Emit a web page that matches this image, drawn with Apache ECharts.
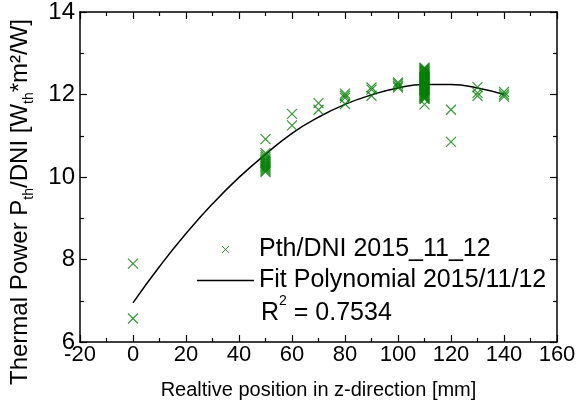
<!DOCTYPE html>
<html>
<head>
<meta charset="utf-8">
<script src="https://cdn.jsdelivr.net/npm/echarts@6/dist/echarts.min.js"></script>
<style>
html,body{margin:0;padding:0;background:#fff;}
#chart{width:579px;height:412px;}
</style>
</head>
<body>
<div id="chart"></div>
<script>
// Measured points (relative position in mm -> Pth/DNI)
const z0   = [7.90, 6.57];
const z50  = [10.92, 10.58, 10.53, 10.48, 10.44, 10.40, 10.37, 10.33, 10.30, 10.27, 10.24, 10.21, 10.18, 10.15, 10.12];
const z60  = [11.53, 11.25];
const z70  = [11.79, 11.63];
const z80  = [12.02, 11.97, 11.92, 11.77];
const z90  = [12.17, 12.12, 11.97];
const z100 = [12.29, 12.25, 12.21, 12.17];
const z110 = [12.65, 12.63, 12.61, 12.59, 12.57, 12.55, 12.53, 12.51, 12.49, 12.47, 12.45, 12.43, 12.41, 12.39, 12.37, 12.35, 12.33, 12.31, 12.29, 12.27, 12.25, 12.23, 12.21, 12.19, 12.17, 12.15, 12.13, 12.11, 12.09, 12.07, 12.05, 12.03, 12.01, 11.99, 11.97, 11.95, 11.93, 11.91, 11.89, 11.76];
const z120 = [11.63, 10.85];
const z130 = [12.18, 12.04, 11.97];
const z140 = [12.06, 12.00, 11.95];
const positions = [0, 50, 60, 70, 80, 90, 100, 110, 120, 130, 140];
const groups = [z0, z50, z60, z70, z80, z90, z100, z110, z120, z130, z140];

// Polynomial fit curve
const fitX = [0, 10, 20, 30, 40, 50, 60, 70, 80, 90, 100, 110, 120, 130, 140];
const fitY = [6.95, 7.83, 8.63, 9.35, 9.99, 10.55, 11.06, 11.45, 11.76, 11.99, 12.16, 12.24, 12.24, 12.16, 12.00];

const xTicks = {min: -20, max: 160, interval: 20};
const yTicks = {min: 6, max: 14, interval: 2};

const scatterName = 'Pth/DNI 2015_11_12';
const fitName = 'Fit Polynomial 2015/11/12';
const r2Text = '0.7534';

const scatterData = [];
positions.forEach((p, i) => groups[i].forEach(v => scatterData.push([p, v])));
const fitData = fitX.map((x, i) => [x, fitY[i]]);

const xMark = 'path://M0,0L10,10M10,0L0,10';
const lineMark = 'path://M0,0L57,0L57,1.5L0,1.5Z';
const green = '#008000';
const font = 'Liberation Sans, Arial, sans-serif';

const chart = echarts.init(document.getElementById('chart'));
const axisCommon = {
  axisLine: {show: true, onZero: false, lineStyle: {color: '#000', width: 1.5}},
  axisTick: {show: true, inside: true, length: 7, lineStyle: {color: '#000', width: 1.2}},
  minorTick: {show: true, splitNumber: 2, length: 4, lineStyle: {color: '#000', width: 1.2}},
  splitLine: {show: false},
  minorSplitLine: {show: false}
};
chart.setOption({
  animation: false,
  backgroundColor: '#fff',
  grid: {left: 79, right: 22, top: 10, bottom: 70, containLabel: false},
  xAxis: [
    Object.assign({
      type: 'value', min: xTicks.min, max: xTicks.max, interval: xTicks.interval,
      position: 'bottom',
      name: 'Realtive position in z-direction [mm]',
      nameLocation: 'middle', nameGap: 38,
      nameTextStyle: {fontFamily: font, fontSize: 20, color: '#000'},
      axisLabel: {fontFamily: font, fontSize: 22, color: '#000', margin: 2}
    }, axisCommon),
    Object.assign({
      type: 'value', min: xTicks.min, max: xTicks.max, interval: xTicks.interval,
      position: 'top', axisLabel: {show: false}
    }, axisCommon)
  ],
  yAxis: [
    Object.assign({
      type: 'value', min: yTicks.min, max: yTicks.max, interval: yTicks.interval,
      position: 'left',
      name: '{m|Thermal Power P}{s|th}{m|/DNI [W}{s|th}{m|*m²/W]}',
      nameLocation: 'middle', nameGap: 44, nameRotate: 90,
      nameTextStyle: {
        fontFamily: font, color: '#000', padding: [0, 50, 0, 0],
        rich: {
          m: {fontFamily: font, fontSize: 24, color: '#000', lineHeight: 32, verticalAlign: 'middle'},
          s: {fontFamily: font, fontSize: 14, color: '#000', lineHeight: 14, verticalAlign: 'bottom'}
        }
      },
      axisLabel: {fontFamily: font, fontSize: 24, color: '#000', margin: 5}
    }, axisCommon),
    Object.assign({
      type: 'value', min: yTicks.min, max: yTicks.max, interval: yTicks.interval,
      position: 'right', axisLabel: {show: false}
    }, axisCommon)
  ],
  legend: {
    orient: 'vertical', left: 197, top: 237, padding: 0,
    itemWidth: 57, itemHeight: 7, itemGap: 6, symbolKeepAspect: true,
    textStyle: {fontFamily: font, fontSize: 25, color: '#000'},
    data: [
      {name: scatterName, icon: xMark, itemStyle: {color: green, borderColor: green, borderWidth: 1}},
      {name: fitName, icon: lineMark, itemStyle: {color: '#000', borderWidth: 0}}
    ]
  },
  graphic: [{
    type: 'text', left: 261, top: 294,
    style: {
      text: '{m|R}{p|2}{m| = ' + r2Text + '}',
      rich: {
        m: {fontFamily: font, fontSize: 25, fill: '#000', lineHeight: 32, verticalAlign: 'bottom'},
        p: {fontFamily: font, fontSize: 14, fill: '#000', lineHeight: 32, verticalAlign: 'top'}
      }
    }
  }],
  series: [
    {
      name: scatterName, type: 'scatter', xAxisIndex: 0, yAxisIndex: 0,
      symbol: xMark, symbolSize: 10,
      itemStyle: {color: green, borderColor: green, borderWidth: 1.2},
      data: scatterData, z: 3
    },
    {
      name: fitName, type: 'line', xAxisIndex: 0, yAxisIndex: 0,
      smooth: true, symbol: 'none', showSymbol: false,
      lineStyle: {color: '#000', width: 1.5},
      itemStyle: {color: '#000'},
      data: fitData, z: 2
    }
  ]
});
</script>
</body>
</html>
